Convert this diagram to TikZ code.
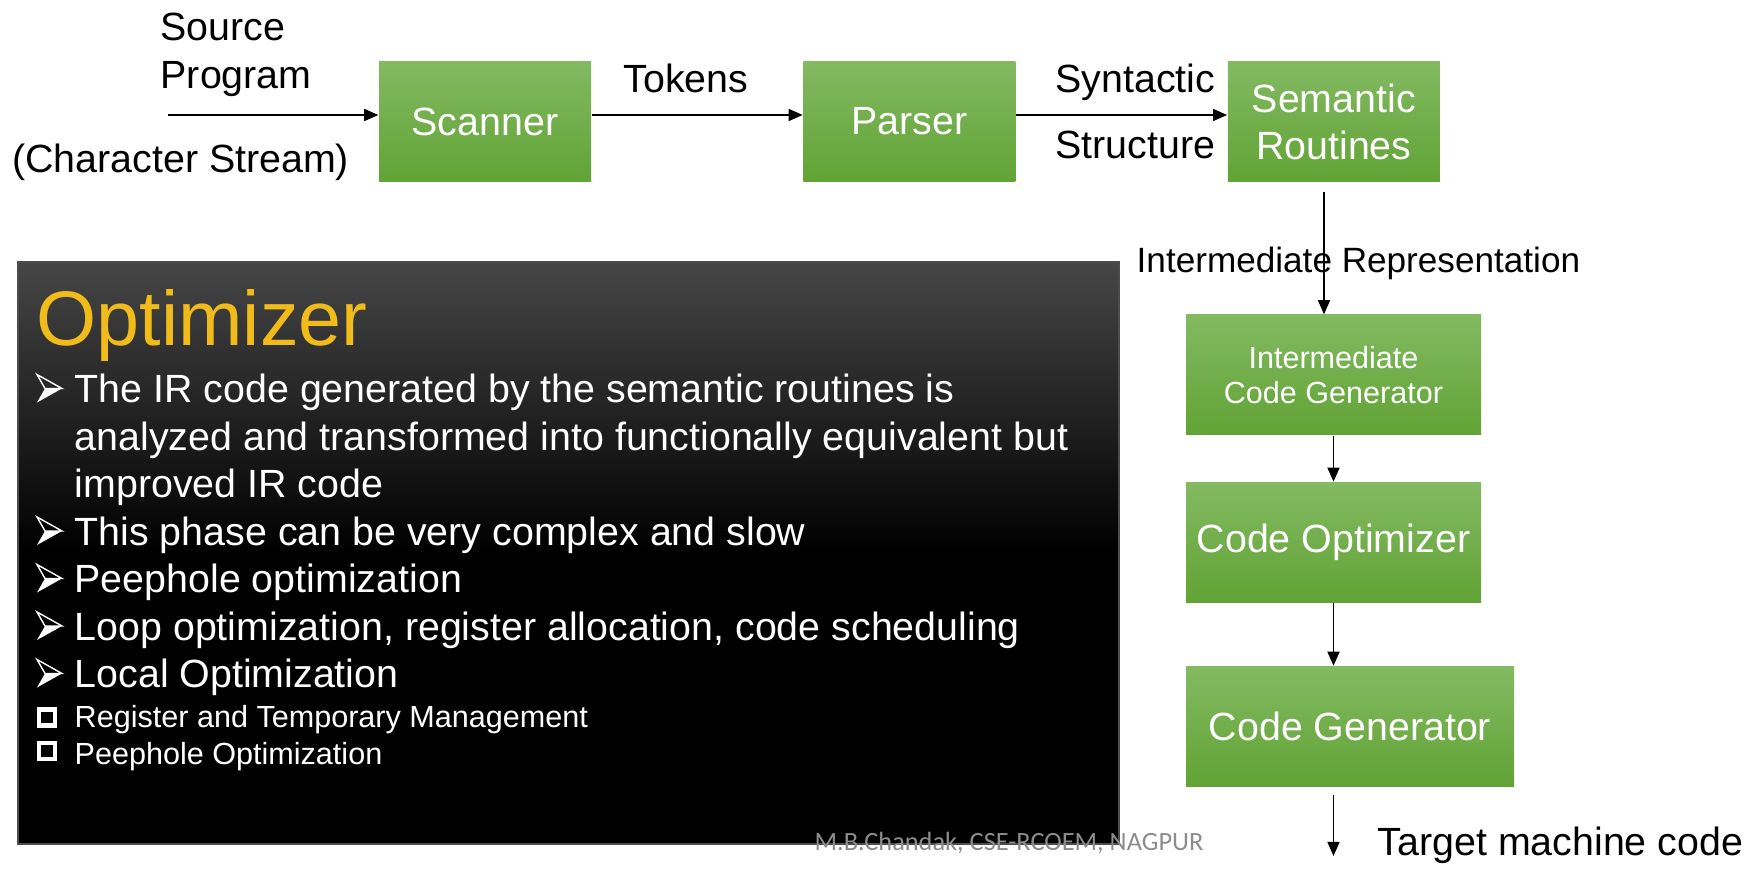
\documentclass[tikz,border=0pt]{standalone}
\usepackage{fontspec}
\setmainfont{Liberation Sans}
\newfontfamily\footfont{Carlito}
\usepackage{xcolor}
\usetikzlibrary{arrows.meta,positioning}
\definecolor{boxtop}{RGB}{131,186,98}
\definecolor{boxbot}{RGB}{97,163,53}
\definecolor{slidetop}{RGB}{70,70,70}
\definecolor{titlegold}{RGB}{241,187,27}
\definecolor{footgray}{RGB}{140,140,140}

\tikzset{
    stage/.style={rectangle, top color=boxtop, bottom color=boxbot, text=white,
        inner sep=0pt, align=center, minimum height=1.2cm},
    lbl/.style={inner sep=0pt, anchor=base west, font=\fontsize{11.2}{13.5}\selectfont},
    bodytxt/.style={lbl, text=white},
    subtxt/.style={lbl, text=white, font=\fontsize{8.7}{10.5}\selectfont},
    sqbul/.style={rectangle, draw=white, line width=1.3pt, fill=black,
        minimum size=0.16cm, inner sep=0pt},
    flow/.style={-{Triangle[length=4pt,width=3.4pt]}, line width=0.5pt},
    arrowbullet/.pic={
        \fill[white] (0.08,0.14) -- (0.25,0.14) -- (0,0) -- cycle;
        \draw[white, line width=0.4pt, line join=miter] (0,0.28) -- (0.25,0.14) -- (0.08,0.14) -- cycle;
    },
}

\begin{document}
\begin{tikzpicture}
    \useasboundingbox (0,0) rectangle (17.54,8.71);

    % Front end
    \node[stage, minimum width=2.12cm, font=\fontsize{11.2}{13.5}\selectfont] (scan) at (4.85,7.495) {Scanner};
    \node[stage, minimum width=2.12cm, font=\fontsize{11.2}{13.5}\selectfont, right=2.11cm of scan] (pars) {Parser};
    \node[stage, minimum width=2.12cm, font=\fontsize{11.2}{13.4}\selectfont, right=2.11cm of pars] (sem) {Semantic\\Routines};

    \coordinate (srcin) at (1.68,7.56);
    \draw[flow] (srcin) -- (srcin -| scan.west);
    \draw[flow] (srcin -| scan.east) -- (srcin -| pars.west);
    \draw[flow] (srcin -| pars.east) -- (srcin -| sem.west);

    \node[lbl] (src1) at (1.60,8.30) {Source};
    \node[lbl] (src2) at (1.60,7.82) {Program};
    \node[lbl] (chstream) at (0.115,6.98) {(Character Stream)};
    \node[lbl, anchor=base] (tok) at (6.86,7.78) {Tokens};
    \node[lbl, anchor=base east] (syn) at (12.16,7.78) {Syntactic};
    \node[lbl, anchor=base east] (struc) at (12.16,7.12) {Structure};

    % Back end
    \node[stage, minimum width=2.95cm, font=\fontsize{8.7}{10.2}\selectfont] (icg) at (13.335,4.96) {Intermediate\\Code Generator};
    \node[stage, minimum width=2.95cm, font=\fontsize{11.2}{13.5}\selectfont, below=0.46cm of icg] (opt) {Code Optimizer};
    \node[stage, minimum width=3.28cm, font=\fontsize{11.2}{13.5}\selectfont] (cg) at (13.50,1.445) {Code Generator};

    \coordinate (irfrom) at (13.24,6.79);
    \draw[flow, line width=0.35pt] (irfrom) -- (irfrom |- icg.north);
    \node[lbl, font=\fontsize{10}{12}\selectfont] (irlbl) at (11.36,5.98) {Intermediate Representation};
    \draw[flow] (icg.south) -- (opt.north);
    \draw[flow] (opt.south) -- (opt.south |- cg.north);
    \coordinate (tmcfrom) at (13.335,0.76);
    \coordinate (tmcto) at (13.335,0.15);
    \draw[flow] (tmcfrom) -- (tmcto);
    \node[lbl] (tmc) at (13.77,0.16) {Target machine code};

    % Optimizer panel
    \node[rectangle, draw=black!70, line width=0.6pt, top color=slidetop, bottom color=black, middle color=black,
        minimum width=11.01cm, minimum height=5.82cm, inner sep=0pt] (slide) at (5.685,3.18) {};
    \node[lbl, font=\fontsize{22}{26}\selectfont, text=titlegold] (title) at (0.36,5.26) {Optimizer};

    \foreach \yy/\txt [count=\i] in {
        4.685/{The IR code generated by the semantic routines is},
        4.21/{analyzed and transformed into functionally equivalent but},
        3.735/{improved IR code},
        3.26/{This phase can be very complex and slow},
        2.785/{Peephole optimization},
        2.31/{Loop optimization, register allocation, code scheduling},
        1.835/{Local Optimization}} {
        \node[bodytxt] (ln\i) at (0.74,\yy) {\txt};
    }
    \foreach \yy in {4.685,3.26,2.785,2.31,1.835} {
        \pic at (0.37,\yy) {arrowbullet};
    }

    \node[subtxt] (sub1) at (0.74,1.44) {Register and Temporary Management};
    \node[subtxt] (sub2) at (0.74,1.07) {Peephole Optimization};
    \node[sqbul] (sq1) at (0.472,1.535) {};
    \node[sqbul] (sq2) at (0.472,1.20) {};

    \node[lbl, font=\footfont\fontsize{7.5}{9}\selectfont, text=footgray] (foot) at (8.14,0.21) {M.B.Chandak, CSE-RCOEM, NAGPUR};
\end{tikzpicture}
\end{document}
